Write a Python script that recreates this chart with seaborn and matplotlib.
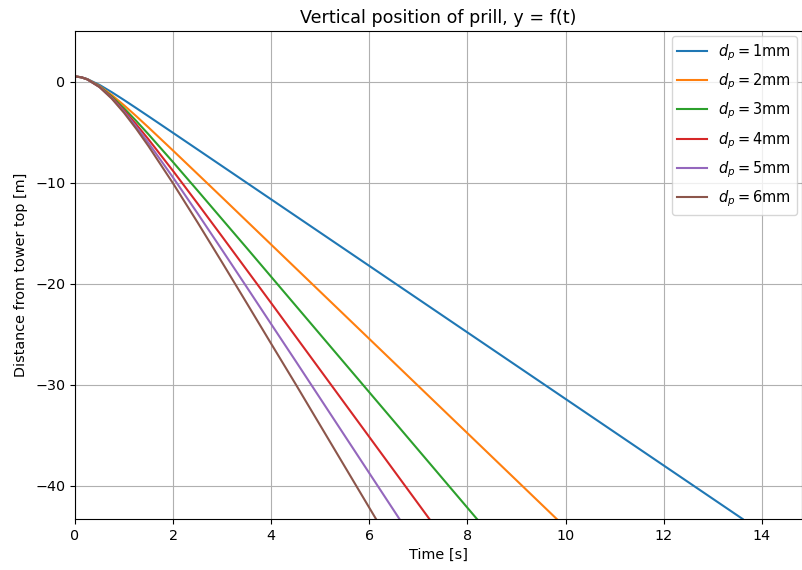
import matplotlib
matplotlib.use("Agg")
import matplotlib.pyplot as plt
import seaborn as sns
import pandas as pd

# Values (time [s], height [m]) for each prill diameter
t_1mm = [0, 0.125, 0.25, 0.5, 0.75, 1.0, 1.25, 1.5, 2.0, 2.5, 13.61]
y_1mm = [0.5, 0.430, 0.246, -0.334, -1.052, -1.828, -2.630, -3.442, -5.080, -6.723, -43.27]

t_2mm = [0, 0.125, 0.25, 0.5, 0.75, 1.0, 1.25, 1.5, 2.0, 2.5, 3.0, 9.82]
y_2mm = [0.5, 0.428, 0.231, -0.437, -1.332, -2.349, -3.430, -4.547, -6.834, -9.148, -11.467, -43.27]

t_3mm = [0, 0.125, 0.25, 0.5, 0.75, 1.0, 1.25, 1.5, 2.0, 2.5, 3.0, 3.5, 8.194]
y_3mm = [0.5, 0.427, 0.224, -0.487, -1.479, -2.641, -3.905, -5.230, -7.978, -10.789, -13.626, -16.460, -43.27]

t_4mm = [0, 0.125, 0.25, 0.5, 0.75, 1.0, 1.25, 1.5, 2.0, 2.5, 3.0, 3.5, 4.0, 7.2245]
y_4mm = [0.5, 0.427, 0.220, -0.519, -1.576, -2.842, -4.242, -5.728, -8.849, -12.072, -15.341, -18.632, -21.916, -43.27]

t_5mm = [0, 0.125, 0.25, 0.5, 0.75, 1.0, 1.25, 1.5, 2.0, 2.5, 3.0, 3.5, 4.0, 4.5, 6.6139]
y_5mm = [0.5, 0.426, 0.217, -0.540, -1.641, -2.981, -4.481, -6.089, -9.500, -13.051, -16.672, -20.326, -23.998, -27.660, -43.27]

t_6mm = [0, 0.125, 0.25, 0.5, 0.75, 1.0, 1.25, 1.5, 2.0, 2.5, 3.0, 3.5, 4.0, 4.5, 6.1362]
y_6mm = [0.5, 0.426, 0.215, -0.556, -1.694, -3.097, -4.685, -6.403, -10.081, -13.943, -17.900, -21.907, -25.940, -29.947, -43.27]

labels = [r"$d_p = 1$mm", r"$d_p = 2$mm", r"$d_p = 3$mm",
          r"$d_p = 4$mm", r"$d_p = 5$mm", r"$d_p = 6$mm"]
series_t = [t_1mm, t_2mm, t_3mm, t_4mm, t_5mm, t_6mm]
series_y = [y_1mm, y_2mm, y_3mm, y_4mm, y_5mm, y_6mm]

x_ticks = [0, 2, 4, 6, 8, 10, 12, 14]
y_ticks = [0, -10, -20, -30, -40]

rows = []
for lab, ts, ys in zip(labels, series_t, series_y):
    for tt, yy in zip(ts, ys):
        rows.append({"t": tt, "y": yy, "d": lab})
df = pd.DataFrame(rows)

plt.rcParams['font.family'] = ['DejaVu Sans']
fig = plt.figure(figsize=(8.03, 5.70), dpi=100)
ax = fig.add_axes([75 / 803, 1 - 519 / 570, (802 - 75) / 803, (519 - 31) / 570])

palette = sns.color_palette("tab10", 6)
sns.lineplot(data=df, x="t", y="y", hue="d", hue_order=labels, palette=palette,
             ax=ax, linewidth=1.5, sort=True, estimator=None)

ax.set_xlim(0, 14.82)
ax.set_ylim(-43.27, 5.0)
ax.set_xticks(x_ticks)
ax.set_yticks(y_ticks)
ax.tick_params(labelsize=10.3)
ax.grid(True, color="#b0b0b0", linewidth=0.8)
ax.set_axisbelow(True)
ax.set_title("Vertical position of prill, y = f(t)", fontsize=12.6)
ax.set_xlabel("Time [s]", fontsize=10.4)
ax.set_ylabel("Distance from tower top [m]", fontsize=10.4, labelpad=5)
handles, labs = ax.get_legend_handles_labels()
ax.legend(handles, labs, loc="upper right", fontsize=10.5, labelspacing=0.6,
          borderaxespad=0.35)

fig.savefig("out.png", dpi=100)
